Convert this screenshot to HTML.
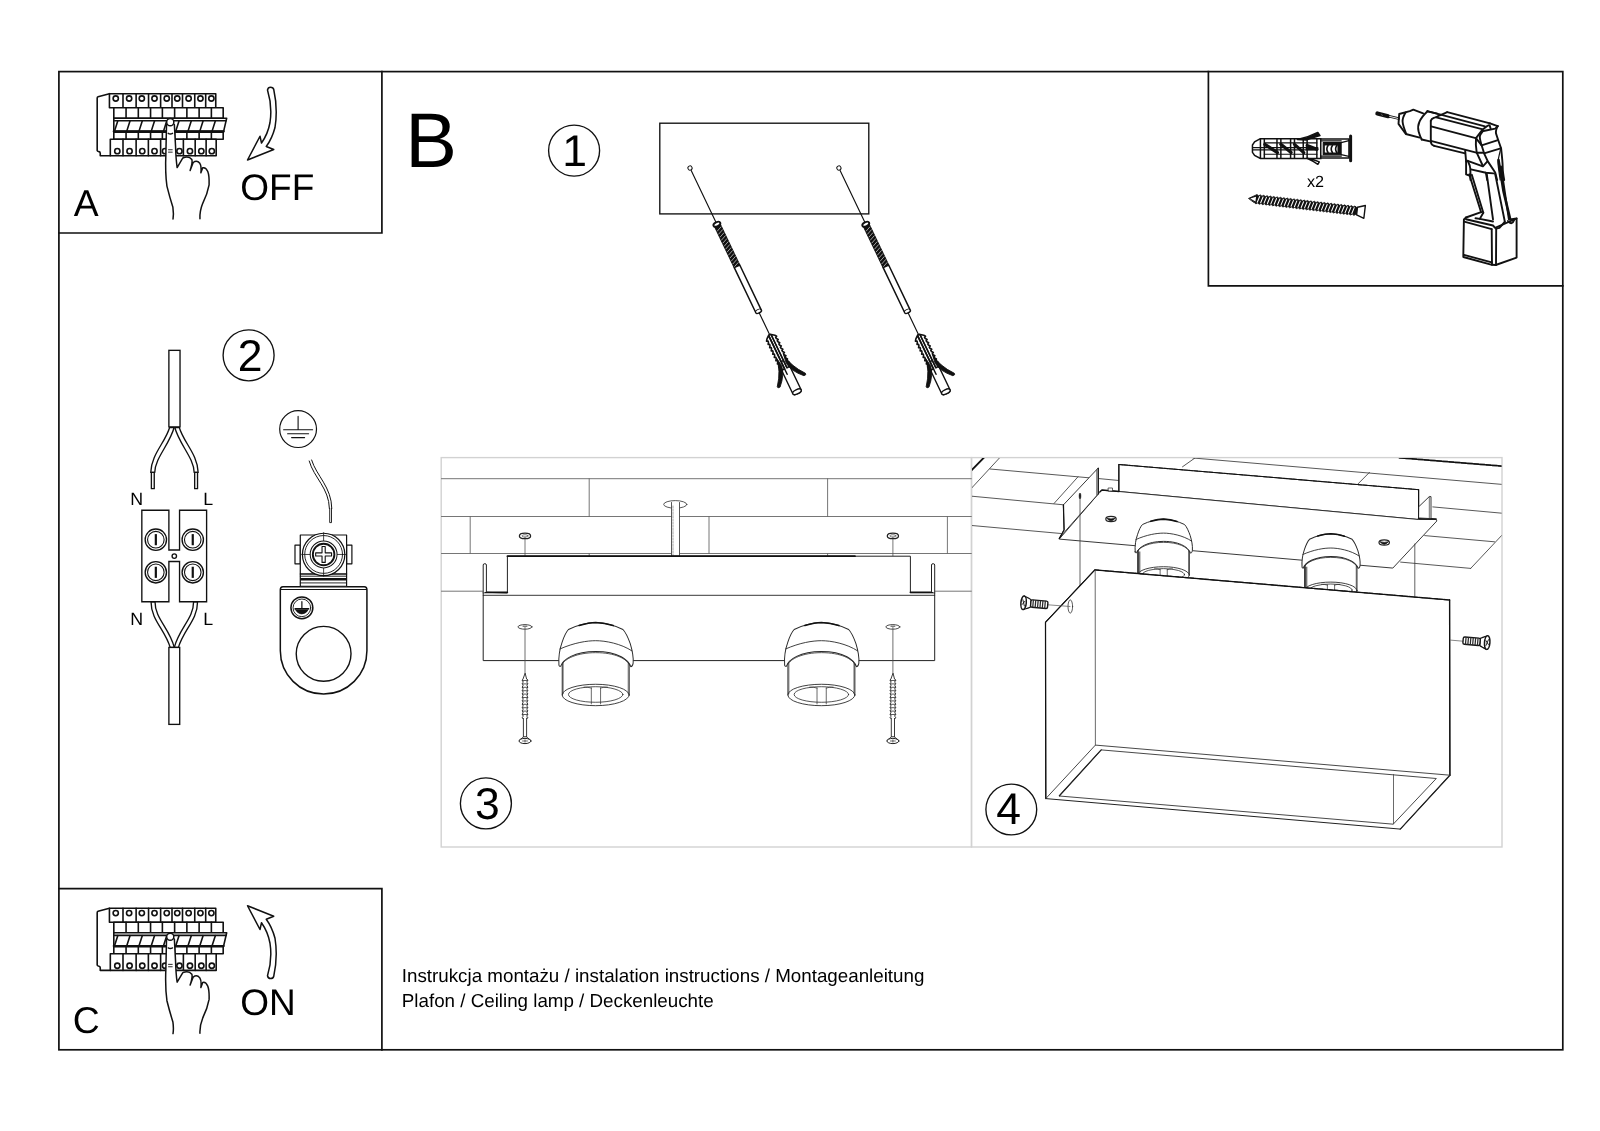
<!DOCTYPE html>
<html lang="pl"><head><meta charset="utf-8"><title>Instrukcja montażu</title>
<style>
html,body{margin:0;padding:0;background:#fff;}
body{width:1600px;height:1131px;overflow:hidden;}
svg{display:block;will-change:transform;}
svg text{font-family:"Liberation Sans",sans-serif;fill:#000;stroke:none;text-rendering:geometricPrecision;}
.k{fill:none;stroke:#111;stroke-linecap:round;stroke-linejoin:round;}
.w{fill:#fff;stroke:#111;stroke-linecap:round;stroke-linejoin:round;}
.b{fill:#111;stroke:#111;stroke-linejoin:round;}
</style></head><body>
<svg width="1600" height="1131" viewBox="0 0 1600 1131">
<rect width="1600" height="1131" fill="#fff"/>
<!-- frames -->
<g class="k" stroke-width="1.7" style="stroke-linecap:square;stroke-linejoin:miter">
<rect x="58.9" y="71.6" width="1503.9" height="978.2"/>
<path d="M381.9 71.6V233H58.9"/>
<path d="M58.9 888.6H381.9V1049.8"/>
<path d="M1208.4 71.6V285.8H1562.8"/>
</g>
<!-- labels -->
<text x="73.8" y="215.5" font-size="37.3">A</text>
<text x="240.3" y="200" font-size="37">OFF</text>
<text x="405.3" y="167.4" font-size="77.5">B</text>
<text x="72.8" y="1032.5" font-size="37.3">C</text>
<text x="240.3" y="1015" font-size="37">ON</text>
<text x="401.8" y="981.8" font-size="18.78">Instrukcja montażu / instalation instructions / Montageanleitung</text>
<text x="401.8" y="1007.3" font-size="18.78">Plafon / Ceiling lamp / Deckenleuchte</text>
<text x="1307" y="187.2" font-size="16.2">x2</text>
<!-- circled numbers -->
<g class="k" stroke-width="1.35">
<circle cx="574.1" cy="150.6" r="25.5"/>
<circle cx="248.6" cy="355.3" r="25.5"/>
<circle cx="485.9" cy="803.4" r="25.5"/>
<circle cx="1011.3" cy="809.5" r="25.4"/>
</g>
<g font-size="44.5" text-anchor="middle">
<text x="574.5" y="165.8">1</text>
<text x="250.2" y="370.9">2</text>
<text x="487.3" y="818.9">3</text>
<text x="1008.5" y="824.3">4</text>
</g>

<!-- box A -->
<g><g transform="translate(95 88) scale(0.08750)" class="k" stroke-width="18.29">
<path class="k" d="M165 65 L35 100 Q25 103 25 115 L25 715 Q27 724 45 727 Q60 730 60 745 L60 775 L175 775"/>
<rect class="w" x="165" y="65" width="1215" height="160"/>
<path d="M320 65V225"/>
<path d="M470 65V225"/>
<path d="M612 65V225"/>
<path d="M750 65V225"/>
<path d="M880 65V225"/>
<path d="M1000 65V225"/>
<path d="M1140 65V225"/>
<path d="M1265 65V225"/>
<circle cx="237" cy="120" r="30"/>
<circle cx="390" cy="120" r="30"/>
<circle cx="535" cy="120" r="30"/>
<circle cx="680" cy="120" r="30"/>
<circle cx="820" cy="120" r="30"/>
<circle cx="940" cy="120" r="30"/>
<circle cx="1070" cy="120" r="30"/>
<circle cx="1205" cy="120" r="30"/>
<circle cx="1330" cy="120" r="30"/>
<rect class="w" x="215" y="225" width="1250" height="120"/>
<path d="M355 225V345"/>
<path d="M495 225V345"/>
<path d="M635 225V345"/>
<path d="M770 225V345"/>
<path d="M910 225V345"/>
<path d="M1050 225V345"/>
<path d="M1190 225V345"/>
<path d="M1330 225V345"/>
<path class="w" d="M215 345H1505L1470 495H215Z"/>
<path d="M225 375H1498"/>
<path d="M260 378L224 490"/>
<path d="M400 378L364 490"/>
<path d="M540 378L504 490"/>
<path d="M680 378L644 490"/>
<path d="M820 378L784 490"/>
<path d="M960 378L924 490"/>
<path d="M1100 378L1064 490"/>
<path d="M1235 378L1199 490"/>
<path d="M1375 378L1339 490"/>
<path d="M215 497H1470" stroke-width="26.29"/>
<rect class="w" x="215" y="505" width="1250" height="80"/>
<path d="M355 505V585"/>
<path d="M495 505V585"/>
<path d="M635 505V585"/>
<path d="M770 505V585"/>
<path d="M910 505V585"/>
<path d="M1050 505V585"/>
<path d="M1190 505V585"/>
<path d="M1330 505V585"/>
<rect class="w" x="175" y="585" width="1210" height="190"/>
<path d="M320 585V775"/>
<path d="M470 585V775"/>
<path d="M610 585V775"/>
<path d="M750 585V775"/>
<path d="M880 585V775"/>
<path d="M1010 585V775"/>
<path d="M1145 585V775"/>
<path d="M1270 585V775"/>
<circle cx="255" cy="722" r="30"/>
<circle cx="395" cy="722" r="30"/>
<circle cx="540" cy="722" r="30"/>
<circle cx="680" cy="722" r="30"/>
<circle cx="800" cy="722" r="30"/>
<circle cx="965" cy="722" r="30"/>
<circle cx="1085" cy="722" r="30"/>
<circle cx="1215" cy="722" r="30"/>
<circle cx="1335" cy="722" r="30"/>
</g>
<g transform="translate(90 80) scale(0.13263)" class="k" stroke-width="11.31">
<path fill="#fff" stroke="none" d="M577 335 L572 560 Q566 700 580 800 Q600 880 625 960 Q632 1010 626 1048 L829 1046 Q826 990 850 930 Q885 860 898 790 Q900 720 888 690 Q872 655 850 662 L836 700 Q842 650 828 628 Q806 600 778 622 L755 682 Q775 620 768 600 Q745 570 700 588 L657 660 Q648 600 645 500 L636 335 Z"/>
<path class="k" d="M577 335 L572 560 Q566 700 580 800 Q600 880 625 960 Q632 1010 626 1048 M829 1046 Q826 990 850 930 Q885 860 898 790 Q900 720 888 690 Q872 655 850 662 L836 700 Q842 650 828 628 Q806 600 778 622 L755 682 Q775 620 768 600 Q745 570 700 588 L657 660 Q648 600 645 500 L636 335"/>
<circle class="w" cx="605" cy="318" r="27"/>
<path d="M590 402 Q605 412 622 402"/>
<path d="M592 526 H620 M592 544 H620" stroke-width="6.79"/>
</g>
<g transform="translate(40 50) scale(0.25)" class="k" stroke-width="6"><path class="w" d="M910 160 Q912 149 922 149 Q933 149 935 158 Q952 235 940 310 Q928 355 905 386 L935 398 L830 440 L880 345 L886 372 Q912 335 920 290 Q930 225 910 160 Z"/></g></g>

<!-- box C -->
<g><g transform="translate(0 814.6)"><g transform="translate(95 88) scale(0.08750)" class="k" stroke-width="18.29">
<path class="k" d="M165 65 L35 100 Q25 103 25 115 L25 715 Q27 724 45 727 Q60 730 60 745 L60 775 L175 775"/>
<rect class="w" x="165" y="65" width="1215" height="160"/>
<path d="M320 65V225"/>
<path d="M470 65V225"/>
<path d="M612 65V225"/>
<path d="M750 65V225"/>
<path d="M880 65V225"/>
<path d="M1000 65V225"/>
<path d="M1140 65V225"/>
<path d="M1265 65V225"/>
<circle cx="237" cy="120" r="30"/>
<circle cx="390" cy="120" r="30"/>
<circle cx="535" cy="120" r="30"/>
<circle cx="680" cy="120" r="30"/>
<circle cx="820" cy="120" r="30"/>
<circle cx="940" cy="120" r="30"/>
<circle cx="1070" cy="120" r="30"/>
<circle cx="1205" cy="120" r="30"/>
<circle cx="1330" cy="120" r="30"/>
<rect class="w" x="215" y="225" width="1250" height="120"/>
<path d="M355 225V345"/>
<path d="M495 225V345"/>
<path d="M635 225V345"/>
<path d="M770 225V345"/>
<path d="M910 225V345"/>
<path d="M1050 225V345"/>
<path d="M1190 225V345"/>
<path d="M1330 225V345"/>
<path class="w" d="M215 345H1505L1470 495H215Z"/>
<path d="M225 375H1498"/>
<path d="M260 378L224 490"/>
<path d="M400 378L364 490"/>
<path d="M540 378L504 490"/>
<path d="M680 378L644 490"/>
<path d="M820 378L784 490"/>
<path d="M960 378L924 490"/>
<path d="M1100 378L1064 490"/>
<path d="M1235 378L1199 490"/>
<path d="M1375 378L1339 490"/>
<path d="M215 497H1470" stroke-width="26.29"/>
<rect class="w" x="215" y="505" width="1250" height="80"/>
<path d="M355 505V585"/>
<path d="M495 505V585"/>
<path d="M635 505V585"/>
<path d="M770 505V585"/>
<path d="M910 505V585"/>
<path d="M1050 505V585"/>
<path d="M1190 505V585"/>
<path d="M1330 505V585"/>
<rect class="w" x="175" y="585" width="1210" height="190"/>
<path d="M320 585V775"/>
<path d="M470 585V775"/>
<path d="M610 585V775"/>
<path d="M750 585V775"/>
<path d="M880 585V775"/>
<path d="M1010 585V775"/>
<path d="M1145 585V775"/>
<path d="M1270 585V775"/>
<circle cx="255" cy="722" r="30"/>
<circle cx="395" cy="722" r="30"/>
<circle cx="540" cy="722" r="30"/>
<circle cx="680" cy="722" r="30"/>
<circle cx="800" cy="722" r="30"/>
<circle cx="965" cy="722" r="30"/>
<circle cx="1085" cy="722" r="30"/>
<circle cx="1215" cy="722" r="30"/>
<circle cx="1335" cy="722" r="30"/>
</g>
<g transform="translate(90 80) scale(0.13263)" class="k" stroke-width="11.31">
<path fill="#fff" stroke="none" d="M577 335 L572 560 Q566 700 580 800 Q600 880 625 960 Q632 1010 626 1048 L829 1046 Q826 990 850 930 Q885 860 898 790 Q900 720 888 690 Q872 655 850 662 L836 700 Q842 650 828 628 Q806 600 778 622 L755 682 Q775 620 768 600 Q745 570 700 588 L657 660 Q648 600 645 500 L636 335 Z"/>
<path class="k" d="M577 335 L572 560 Q566 700 580 800 Q600 880 625 960 Q632 1010 626 1048 M829 1046 Q826 990 850 930 Q885 860 898 790 Q900 720 888 690 Q872 655 850 662 L836 700 Q842 650 828 628 Q806 600 778 622 L755 682 Q775 620 768 600 Q745 570 700 588 L657 660 Q648 600 645 500 L636 335"/>
<circle class="w" cx="605" cy="318" r="27"/>
<path d="M590 402 Q605 412 622 402"/>
<path d="M592 526 H620 M592 544 H620" stroke-width="6.79"/>
</g></g>
<g transform="translate(0 1065.75) scale(1 -1)"><g transform="translate(40 50) scale(0.25)" class="k" stroke-width="6"><path class="w" d="M910 160 Q912 149 922 149 Q933 149 935 158 Q952 235 940 310 Q928 355 905 386 L935 398 L830 440 L880 345 L886 372 Q912 335 920 290 Q930 225 910 160 Z"/></g></g></g>

<!-- step 1 -->
<rect class="k" x="659.8" y="123.2" width="209" height="90.7" stroke-width="1.35" style="stroke-linejoin:miter"/>
<g transform="translate(690 168) rotate(64.45)" class="k" stroke-width="1.5">
<path d="M0 0H61" stroke-width="1.15"/>
<circle class="w" cx="0" cy="0" r="2.1" stroke-width="1"/>
<rect class="b" x="63" y="-3.1" width="46" height="6.2" stroke-width="1"/>
<path d="M66.5 -2.6L68.7 2.6 M69.8 -2.6L72.0 2.6 M73.1 -2.6L75.3 2.6 M76.4 -2.6L78.6 2.6 M79.7 -2.6L81.9 2.6 M83.0 -2.6L85.2 2.6 M86.3 -2.6L88.5 2.6 M89.6 -2.6L91.8 2.6 M92.9 -2.6L95.1 2.6 M96.2 -2.6L98.4 2.6 M99.5 -2.6L101.7 2.6 M102.8 -2.6L105.0 2.6 M106.1 -2.6L108.3 2.6" stroke="#fff" stroke-width="0.55" fill="none"/>
<ellipse class="w" cx="62.3" cy="0" rx="2.0" ry="3.7" stroke-width="1.9"/>
<path class="w" d="M109 -3.05H159.3 A1.3 3.05 0 0 1 159.3 3.05 H109Z" stroke-width="1.5"/>
<path d="M158.2 -3.05 A1.3 3.05 0 0 0 158.2 3.05" stroke-width="0.9"/>
<path d="M160.6 0H185" stroke-width="1.15"/>
<path class="w" d="M214 -4.6H248 A2.2 4.6 0 0 1 248 4.6 H214Z" stroke-width="1.4"/>
<ellipse class="w" cx="248" cy="0" rx="2.2" ry="4.6" stroke-width="1.4"/>
<path class="w" d="M184.5 0.6 L186.0 2.6 L187.5 4.4 L189.2 5.6 L189.8 4.2 L191.1 4.4 L192.8 5.6 L193.4 4.2 L194.7 4.4 L196.4 5.6 L197.0 4.2 L198.3 4.4 L200.0 5.6 L200.6 4.2 L201.9 4.4 L203.6 5.6 L204.2 4.2 L205.5 4.4 L207.2 5.6 L207.8 4.2 L209.1 4.4 L210.8 5.6 L211.4 4.2 L212.7 4.4 L214.4 5.6 L215.0 4.2 L216.3 4.4 L218.0 5.6 L218.6 4.2 L219.9 4.4 L221.6 5.6 L222.2 4.2 L222.0 4.6 L222.0 1.3 L186.0 1.3Z" stroke-width="1.6"/>
<path class="w" d="M184.5 -0.6 L186.0 -2.6 L187.5 -4.4 L189.2 -5.6 L189.8 -4.2 L191.1 -4.4 L192.8 -5.6 L193.4 -4.2 L194.7 -4.4 L196.4 -5.6 L197.0 -4.2 L198.3 -4.4 L200.0 -5.6 L200.6 -4.2 L201.9 -4.4 L203.6 -5.6 L204.2 -4.2 L205.5 -4.4 L207.2 -5.6 L207.8 -4.2 L209.1 -4.4 L210.8 -5.6 L211.4 -4.2 L212.7 -4.4 L214.4 -5.6 L215.0 -4.2 L216.3 -4.4 L218.0 -5.6 L218.6 -4.2 L219.9 -4.4 L221.6 -5.6 L222.2 -4.2 L222.0 -4.6 L222.0 -1.3 L186.0 -1.3Z" stroke-width="1.6"/>
<path d="M186 1.3H228" stroke-width="1.5"/>
<path d="M186 -1.3H222" stroke-width="1.3"/>
<path class="b" d="M209 4.0 Q222 5.2 235 15.6 Q237 16.2 236.5 13.2 Q227 3.6 218 2.6 Z" stroke-width="0.8"/>
<path class="b" d="M209 -4.0 Q222 -5.2 235 -15.6 Q237 -16.2 236.5 -13.2 Q227 -3.6 218 -2.6 Z" stroke-width="0.8"/>
</g>
<g transform="translate(838.9 168) rotate(64.45)" class="k" stroke-width="1.5">
<path d="M0 0H61" stroke-width="1.15"/>
<circle class="w" cx="0" cy="0" r="2.1" stroke-width="1"/>
<rect class="b" x="63" y="-3.1" width="46" height="6.2" stroke-width="1"/>
<path d="M66.5 -2.6L68.7 2.6 M69.8 -2.6L72.0 2.6 M73.1 -2.6L75.3 2.6 M76.4 -2.6L78.6 2.6 M79.7 -2.6L81.9 2.6 M83.0 -2.6L85.2 2.6 M86.3 -2.6L88.5 2.6 M89.6 -2.6L91.8 2.6 M92.9 -2.6L95.1 2.6 M96.2 -2.6L98.4 2.6 M99.5 -2.6L101.7 2.6 M102.8 -2.6L105.0 2.6 M106.1 -2.6L108.3 2.6" stroke="#fff" stroke-width="0.55" fill="none"/>
<ellipse class="w" cx="62.3" cy="0" rx="2.0" ry="3.7" stroke-width="1.9"/>
<path class="w" d="M109 -3.05H159.3 A1.3 3.05 0 0 1 159.3 3.05 H109Z" stroke-width="1.5"/>
<path d="M158.2 -3.05 A1.3 3.05 0 0 0 158.2 3.05" stroke-width="0.9"/>
<path d="M160.6 0H185" stroke-width="1.15"/>
<path class="w" d="M214 -4.6H248 A2.2 4.6 0 0 1 248 4.6 H214Z" stroke-width="1.4"/>
<ellipse class="w" cx="248" cy="0" rx="2.2" ry="4.6" stroke-width="1.4"/>
<path class="w" d="M184.5 0.6 L186.0 2.6 L187.5 4.4 L189.2 5.6 L189.8 4.2 L191.1 4.4 L192.8 5.6 L193.4 4.2 L194.7 4.4 L196.4 5.6 L197.0 4.2 L198.3 4.4 L200.0 5.6 L200.6 4.2 L201.9 4.4 L203.6 5.6 L204.2 4.2 L205.5 4.4 L207.2 5.6 L207.8 4.2 L209.1 4.4 L210.8 5.6 L211.4 4.2 L212.7 4.4 L214.4 5.6 L215.0 4.2 L216.3 4.4 L218.0 5.6 L218.6 4.2 L219.9 4.4 L221.6 5.6 L222.2 4.2 L222.0 4.6 L222.0 1.3 L186.0 1.3Z" stroke-width="1.6"/>
<path class="w" d="M184.5 -0.6 L186.0 -2.6 L187.5 -4.4 L189.2 -5.6 L189.8 -4.2 L191.1 -4.4 L192.8 -5.6 L193.4 -4.2 L194.7 -4.4 L196.4 -5.6 L197.0 -4.2 L198.3 -4.4 L200.0 -5.6 L200.6 -4.2 L201.9 -4.4 L203.6 -5.6 L204.2 -4.2 L205.5 -4.4 L207.2 -5.6 L207.8 -4.2 L209.1 -4.4 L210.8 -5.6 L211.4 -4.2 L212.7 -4.4 L214.4 -5.6 L215.0 -4.2 L216.3 -4.4 L218.0 -5.6 L218.6 -4.2 L219.9 -4.4 L221.6 -5.6 L222.2 -4.2 L222.0 -4.6 L222.0 -1.3 L186.0 -1.3Z" stroke-width="1.6"/>
<path d="M186 1.3H228" stroke-width="1.5"/>
<path d="M186 -1.3H222" stroke-width="1.3"/>
<path class="b" d="M209 4.0 Q222 5.2 235 15.6 Q237 16.2 236.5 13.2 Q227 3.6 218 2.6 Z" stroke-width="0.8"/>
<path class="b" d="M209 -4.0 Q222 -5.2 235 -15.6 Q237 -16.2 236.5 -13.2 Q227 -3.6 218 -2.6 Z" stroke-width="0.8"/>
</g>

<!-- tools: plug + screw -->
<g transform="translate(1240 120) scale(0.09729)" class="k" stroke-width="15.42">
<path class="w" style="stroke-linejoin:miter" d="M210 192 L150 225 L128 258 L128 332 L150 365 L210 395 L830 395 L830 192 Z"/>
<path d="M210 195V392"/>
<path d="M250 195V392"/>
<path d="M380 195V392"/>
<path d="M420 195V392"/>
<path d="M520 195V392"/>
<path d="M560 195V392"/>
<path d="M650 195V392"/>
<path d="M690 195V392"/>
<path d="M790 195V392"/>
<path d="M130 283H800 M130 307H800" stroke-width="12.33"/>
<path d="M250 235H790 M250 352H790" stroke-width="11.31"/>
<path d="M255 250L385 335 M420 250L525 335 M560 250L655 335 M690 262L790 300" stroke-width="32.89"/>
<path d="M690 295H790" stroke-width="30.84"/>
<path class="b" d="M590 200 Q700 180 800 128 L822 160 Q740 185 680 205 Z"/>
<path class="w" d="M690 392 Q760 405 815 430 L800 455 Q745 420 700 400 Z"/>
<rect class="w" x="830" y="195" width="290" height="195"/>
<rect class="b" x="855" y="232" width="185" height="125" stroke-width="10.28"/>
<rect fill="#fff" stroke="none" x="872" y="262" width="130" height="72"/>
<path d="M905 262 Q880 298 905 334 M950 262 Q925 298 950 334 M995 262 Q970 298 995 334" stroke-width="16.45"/>
<path d="M1040 232L1120 212 M1040 357L1120 375 M830 215H1040 M830 372H1040" stroke-width="13.36"/>
<path d="M1137 165V420" stroke-width="30.84"/>
</g>
<g transform="translate(1248.8 198.3) rotate(6.7)" class="k" stroke-width="1.2">
<path class="b" d="M0 0 L6 -3.6 L6.0 -3.6 L7.7 -4.7 L9.4 -3.6 L9.4 -3.6 L11.1 -4.7 L12.8 -3.6 L12.8 -3.6 L14.5 -4.7 L16.2 -3.6 L16.2 -3.6 L17.9 -4.7 L19.6 -3.6 L19.6 -3.6 L21.3 -4.7 L23.0 -3.6 L23.0 -3.6 L24.7 -4.7 L26.4 -3.6 L26.4 -3.6 L28.1 -4.7 L29.8 -3.6 L29.8 -3.6 L31.5 -4.7 L33.2 -3.6 L33.2 -3.6 L34.9 -4.7 L36.6 -3.6 L36.6 -3.6 L38.3 -4.7 L40.0 -3.6 L40.0 -3.6 L41.7 -4.7 L43.4 -3.6 L43.4 -3.6 L45.1 -4.7 L46.8 -3.6 L46.8 -3.6 L48.5 -4.7 L50.2 -3.6 L50.2 -3.6 L51.9 -4.7 L53.6 -3.6 L53.6 -3.6 L55.3 -4.7 L57.0 -3.6 L57.0 -3.6 L58.7 -4.7 L60.4 -3.6 L60.4 -3.6 L62.1 -4.7 L63.8 -3.6 L63.8 -3.6 L65.5 -4.7 L67.2 -3.6 L67.2 -3.6 L68.9 -4.7 L70.6 -3.6 L70.6 -3.6 L72.3 -4.7 L74.0 -3.6 L74.0 -3.6 L75.7 -4.7 L77.4 -3.6 L77.4 -3.6 L79.1 -4.7 L80.8 -3.6 L80.8 -3.6 L82.5 -4.7 L84.2 -3.6 L84.2 -3.6 L85.9 -4.7 L87.6 -3.6 L87.6 -3.6 L89.3 -4.7 L91.0 -3.6 L91.0 -3.6 L92.7 -4.7 L94.4 -3.6 L94.4 -3.6 L96.1 -4.7 L97.8 -3.6 L97.8 -3.6 L99.5 -4.7 L101.2 -3.6 L101.2 -3.6 L102.9 -4.7 L104.6 -3.6 L104.6 -3.6 L106.3 -4.7 L108.0 -3.6 L109 -3.6 L109 3.6 L108.0 3.6 L106.3 4.7 L104.6 3.6 L104.6 3.6 L102.9 4.7 L101.2 3.6 L101.2 3.6 L99.5 4.7 L97.8 3.6 L97.8 3.6 L96.1 4.7 L94.4 3.6 L94.4 3.6 L92.7 4.7 L91.0 3.6 L91.0 3.6 L89.3 4.7 L87.6 3.6 L87.6 3.6 L85.9 4.7 L84.2 3.6 L84.2 3.6 L82.5 4.7 L80.8 3.6 L80.8 3.6 L79.1 4.7 L77.4 3.6 L77.4 3.6 L75.7 4.7 L74.0 3.6 L74.0 3.6 L72.3 4.7 L70.6 3.6 L70.6 3.6 L68.9 4.7 L67.2 3.6 L67.2 3.6 L65.5 4.7 L63.8 3.6 L63.8 3.6 L62.1 4.7 L60.4 3.6 L60.4 3.6 L58.7 4.7 L57.0 3.6 L57.0 3.6 L55.3 4.7 L53.6 3.6 L53.6 3.6 L51.9 4.7 L50.2 3.6 L50.2 3.6 L48.5 4.7 L46.8 3.6 L46.8 3.6 L45.1 4.7 L43.4 3.6 L43.4 3.6 L41.7 4.7 L40.0 3.6 L40.0 3.6 L38.3 4.7 L36.6 3.6 L36.6 3.6 L34.9 4.7 L33.2 3.6 L33.2 3.6 L31.5 4.7 L29.8 3.6 L29.8 3.6 L28.1 4.7 L26.4 3.6 L26.4 3.6 L24.7 4.7 L23.0 3.6 L23.0 3.6 L21.3 4.7 L19.6 3.6 L19.6 3.6 L17.9 4.7 L16.2 3.6 L16.2 3.6 L14.5 4.7 L12.8 3.6 L12.8 3.6 L11.1 4.7 L9.4 3.6 L9.4 3.6 L7.7 4.7 L6.0 3.6 L6 3.6 Z" stroke-width="0.8"/>
<path d="M10.6 -3.0L8.9 3.0 M14.0 -3.0L12.3 3.0 M17.4 -3.0L15.7 3.0 M20.8 -3.0L19.1 3.0 M24.2 -3.0L22.5 3.0 M27.6 -3.0L25.9 3.0 M31.0 -3.0L29.3 3.0 M34.4 -3.0L32.7 3.0 M37.8 -3.0L36.1 3.0 M41.2 -3.0L39.5 3.0 M44.6 -3.0L42.9 3.0 M48.0 -3.0L46.3 3.0 M51.4 -3.0L49.7 3.0 M54.8 -3.0L53.1 3.0 M58.2 -3.0L56.5 3.0 M61.6 -3.0L59.9 3.0 M65.0 -3.0L63.3 3.0 M68.4 -3.0L66.7 3.0 M71.8 -3.0L70.1 3.0 M75.2 -3.0L73.5 3.0 M78.6 -3.0L76.9 3.0 M82.0 -3.0L80.3 3.0 M85.4 -3.0L83.7 3.0 M88.8 -3.0L87.1 3.0 M92.2 -3.0L90.5 3.0 M95.6 -3.0L93.9 3.0 M99.0 -3.0L97.3 3.0 M102.4 -3.0L100.7 3.0 M105.8 -3.0L104.1 3.0" stroke="#fff" stroke-width="1.05" fill="none"/>
<path d="M1.5 0 L7 -2.4 L7 2.4Z" fill="#fff" stroke="none"/>
<path class="w" d="M109 -3.8 L116.6 -6.4 L116.6 6.4 L109 3.8 Z" stroke-width="1.4"/>
</g>

<!-- drill -->
<path class="k" d="M1377.4 113.5 L1388.1 116.2" stroke-width="4.2" />
<path class="k" d="M1381.5 114.2 L1382.4 115.6" stroke-width="0.5" style="stroke:#999"/>
<path class="k" d="M1389.0 116.3 L1398.5 118.6" stroke-width="2.6" />
<path class="k" d="M1389.6 116.4 L1398.1 118.5" stroke-width="0.9" style="stroke:#fff"/>
<path class="k" d="M1423.1 113.3 L1413.3 109.6 L1409.8 111.1 L1399.2 114.0 L1398.5 123.9 L1405.8 134.0 L1419.7 137.6" stroke-width="1.9" />
<path class="k" d="M1405.6 112.4 Q1402.3 117.7 1402.6 121.7 Q1402.9 125.6 1406.3 134.0" stroke-width="1.9"/>
<path class="k" d="M1427.5 111.3 Q1421.7 116.8 1419.5 121.7 Q1417.3 126.5 1418.6 131.4 Q1420.0 136.3 1421.7 139.5" stroke-width="1.9"/>
<path class="k" d="M1427.5 111.3 L1437.2 113.7" stroke-width="1.9" />
<path class="k" d="M1421.7 139.5 L1431.0 141.7" stroke-width="1.9" />
<path class="k" d="M1447.2 112.2 Q1438.6 115.9 1437.3 116.5 Q1436.1 117.1 1433.8 117.9 Q1431.5 118.7 1430.8 120.8" stroke-width="1.9"/>
<path class="k" d="M1430.8 120.8 Q1430.8 134.8 1430.8 138.5 Q1430.8 142.2 1431.3 143.6 Q1431.8 145.0 1434.2 145.8" stroke-width="1.9"/>
<path class="k" d="M1447.2 112.2 L1490.0 123.3" stroke-width="1.9" />
<path class="k" d="M1490.0 123.3 L1497.7 126.1" stroke-width="1.9" />
<path class="k" d="M1427.4 111.2 L1485.0 126.4" stroke-width="1.9" />
<path class="k" d="M1436.2 117.3 L1481.9 129.2" stroke-width="1.9" />
<path class="k" d="M1431.1 126.4 L1475.7 138.2" stroke-width="1.9" />
<path class="k" d="M1430.8 140.9 L1476.3 152.7 L1482.5 152.7" stroke-width="1.9" />
<path class="k" d="M1434.2 145.8 L1465.1 153.4" stroke-width="1.9" />
<path class="k" d="M1488.7 125.2 L1486.6 126.4 L1482.9 129.2 L1476.0 138.2" stroke-width="1.9" />
<path class="k" d="M1476.0 138.2 Q1475.4 144.7 1476.7 152.7" stroke-width="1.9"/>
<path class="k" d="M1483.5 130.4 Q1479.8 134.8 1479.8 136.9 Q1479.8 139.1 1481.6 145.3" stroke-width="1.9"/>
<path class="k" d="M1483.5 131.0 L1495.2 128.6 L1497.7 126.1" stroke-width="1.9" />
<path class="k" d="M1489.7 125.5 L1490.6 128.6" stroke-width="1.9" />
<path class="k" d="M1497.7 126.1 Q1495.2 131.0 1496.2 134.1 Q1497.1 137.2 1501.1 148.4" stroke-width="1.9"/>
<path class="k" d="M1481.6 145.3 L1497.1 140.3" stroke-width="1.9" />
<path class="k" d="M1484.1 153.3 L1499.9 148.7" stroke-width="1.9" />
<path class="k" d="M1476.0 138.2 L1481.6 145.3 L1484.1 153.3 L1487.8 161.4 L1495.2 172.5 L1497.1 180.0" stroke-width="1.9" />
<path class="k" d="M1476.7 152.7 L1482.2 164.5" stroke-width="1.9" />
<path class="k" d="M1501.1 148.4 Q1502.7 162.6 1502.7 167.3 Q1502.7 171.9 1504.2 180.0" stroke-width="1.9"/>
<path class="k" d="M1500.5 149.6 Q1498.0 159.5 1498.0 162.6 Q1498.0 165.7 1500.2 180.0" stroke-width="1.2"/>
<path class="k" d="M1465.2 150.8 L1466.1 161.4 L1466.1 174.4 L1469.5 175.7" stroke-width="1.9" />
<path class="k" d="M1466.1 161.4 L1467.7 160.8 L1482.9 166.3 L1487.2 161.7" stroke-width="1.9" />
<path class="k" d="M1467.7 160.8 Q1470.2 165.7 1470.3 168.8 Q1470.5 171.9 1470.5 180.0" stroke-width="1.9"/>
<path class="k" d="M1470.8 169.4 L1485.9 172.8 L1493.4 173.4" stroke-width="1.9" />
<path class="k" d="M1485.9 172.8 L1487.2 180.0" stroke-width="1.9" />
<path class="k" d="M1469.2 174.3 L1481.1 212.2" stroke-width="1.9" />
<path class="k" d="M1471.8 174.8 L1483.3 212.8" stroke-width="1.9" />
<path class="k" d="M1486.7 173.6 L1493.0 219.4" stroke-width="1.9" />
<path class="k" d="M1495.1 173.6 L1504.9 222.0" stroke-width="1.9" />
<path class="k" d="M1498.5 160.0 L1503.6 191.8 L1510.2 219.4" stroke-width="2.6" />
<path class="k" d="M1501.0 166.4 L1508.9 219.4" stroke-width="1.9" />
<path class="k" d="M1481.1 212.2 L1466.0 217.5" stroke-width="1.9" />
<path class="k" d="M1483.3 212.8 L1479.8 218.9 L1475.5 218.3" stroke-width="1.9" />
<path class="k" d="M1479.8 218.9 L1493.0 221.5" stroke-width="1.9" />
<path class="k" d="M1466.0 217.5 L1463.9 219.4 L1463.3 257.0 L1492.0 264.8 L1495.7 265.0 L1516.6 257.6 L1516.6 218.5 L1510.2 219.4" stroke-width="1.9" />
<path class="k" d="M1464.2 221.7 L1491.7 229.1" stroke-width="1.9" />
<path class="k" d="M1466.0 219.2 L1493.0 225.5 L1495.1 227.9 L1516.6 218.5" stroke-width="1.9" />
<path class="k" d="M1496.2 228.7 L1499.4 227.9 L1504.7 222.0" stroke-width="1.9" />
<path class="k" d="M1491.7 229.1 L1492.0 264.8" stroke-width="1.9" />
<path class="k" d="M1496.2 228.7 L1496.0 265.0" stroke-width="1.9" />
<path class="k" d="M1463.9 254.9 L1491.7 262.3" stroke-width="1.9" />
<path class="k" d="M1507.9 221.0 Q1510.0 223.6 1511.6 223.1 Q1513.2 222.6 1514.2 219.9" stroke-width="1.9"/>

<!-- step 2 wiring -->
<g transform="translate(110 340) scale(0.15915)" class="k" stroke-width="8.48">
<path class="w" d="M375 548 C350 640 258 720 256 832 L281 832 C284 740 372 660 403 550 Z"/>
<path class="w" d="M435 548 C460 640 552 720 554 832 L529 832 C526 740 438 660 407 550 Z"/>
<rect class="w" x="260" y="832" width="18" height="102"/>
<rect class="w" x="532" y="832" width="18" height="102"/>
<rect class="w" x="370" y="65" width="70" height="481" style="stroke-linejoin:miter"/>
</g>
<g transform="translate(110 480) scale(0.15915)" class="k" stroke-width="8.48">
<path class="w" d="M258 766 C258 880 345 940 378 1052 L404 1052 C372 930 282 870 283 766 Z"/>
<path class="w" d="M550 766 C550 880 463 940 430 1052 L404 1052 C436 930 526 870 525 766 Z"/>
<path class="w" d="M200 190 H370 V440 H437 V190 H607 V765 H437 V512 H370 V765 H200 Z" style="stroke-linejoin:miter"/>
<circle cx="404" cy="478" r="14"/>
<circle cx="288" cy="375" r="67"/>
<circle cx="288" cy="375" r="52" stroke-width="6.91"/>
<path d="M288 340V410" stroke-width="13.82" style="stroke-linecap:butt"/>
<circle cx="520" cy="375" r="67"/>
<circle cx="520" cy="375" r="52" stroke-width="6.91"/>
<path d="M520 340V410" stroke-width="13.82" style="stroke-linecap:butt"/>
<circle cx="288" cy="580" r="67"/>
<circle cx="288" cy="580" r="52" stroke-width="6.91"/>
<path d="M288 545V615" stroke-width="13.82" style="stroke-linecap:butt"/>
<circle cx="520" cy="580" r="67"/>
<circle cx="520" cy="580" r="52" stroke-width="6.91"/>
<path d="M520 545V615" stroke-width="13.82" style="stroke-linecap:butt"/>
<rect class="w" x="370" y="1052" width="68" height="483.6" style="stroke-linejoin:miter"/>
</g>
<g font-size="17.8">
<text x="130.2" y="504.7">N</text><text x="203.2" y="504.7">L</text>
<text x="130.2" y="625.2">N</text><text x="203.2" y="625.2">L</text>
</g>

<!-- ground terminal -->
<g class="k" stroke-width="1.1">
<circle cx="298.1" cy="429.1" r="18.4" stroke-width="1.2"/>
<path d="M298.1 416.4V429.7 M283.6 429.7H312.6 M287.6 433.7H308.6 M291.6 437.6H304.6"/>
<path d="M309.2 461 C314 478 329 488 329.4 508.5 M311.6 460 C316.5 476 331.6 487 331.8 508.5" stroke-width="1"/>
<path d="M329.7 508.5V522.6H331.5V508.5" stroke-width="0.9"/>
</g>
<g transform="translate(260 520) scale(0.17673)" class="k" stroke-width="6.79">
<path class="w" d="M130 377 H590 Q605 377 605 395 V740 A245 245 0 0 1 115 740 V395 Q115 377 130 377 Z" stroke-width="8.49"/>
<path d="M117 393H603" stroke-width="5.66"/>
<circle cx="360" cy="757" r="155" stroke-width="7.92"/>
<circle cx="237" cy="497" r="62" stroke-width="8.49"/>
<circle cx="237" cy="497" r="50" stroke-width="5.09"/>
<path d="M237 462V500 M198 502H276" stroke-width="6.79"/>
<path d="M200 506 H274 Q262 530 237 532 Q212 530 200 506Z" class="b" stroke-width="3.40"/>
<rect class="w" x="228" y="305" width="262" height="70"/>
<path d="M228 335H490" stroke-width="14.71" style="stroke-linecap:butt"/>
<path d="M228 318H490 M228 356H490" stroke-width="5.09"/>
<rect class="w" x="198" y="142" width="30" height="106"/>
<rect class="w" x="490" y="142" width="30" height="106"/>
<rect class="w" x="228" y="85" width="262" height="220"/>
<circle class="w" cx="360" cy="195" r="120" stroke-width="6.79"/>
<circle cx="360" cy="195" r="107" stroke-width="5.09"/>
<path d="M360 72V318 M236 195H484" stroke-width="4.53"/>
<circle class="w" cx="360" cy="195" r="76" stroke-width="5.66"/>
<circle class="w" cx="360" cy="195" r="61" stroke-width="10.75"/>
<path class="w" d="M351 150H369V186H405V204H369V240H351V204H315V186H351Z" stroke-width="6.22"/>
</g>

<!-- step 3 -->
<g class="k" stroke-width="1.4" style="stroke:#d2d2d2;stroke-linejoin:miter">
<rect x="441.2" y="457.6" width="530.3" height="389.4"/>
<rect x="971.5" y="457.6" width="530.5" height="389.4"/>
</g>
<g class="k" stroke-width="0.9" style="stroke:#666">
<path d="M441.5 478.7H971.3 M441.5 516.5H971.3 M441.5 553.5H971.3 M441.5 591.2H483 M935 591.2H971.3"/>
<path d="M589.2 478.7V516.5 M827.6 478.7V516.5 M470.2 516.5V553.5 M709 516.5V553.5 M947.4 516.5V553.5 M589.2 553.5V556 M827.6 553.5V556"/>
</g>
<g class="k" stroke-width="0.9" style="stroke:#444">
<ellipse cx="675.3" cy="504.4" rx="11.6" ry="3.8"/>
<path class="w" style="stroke:#444" d="M671.5 502.5V556.2H679.5V502.5"/>
<path d="M673 506V556" stroke-dasharray="2 1.2" stroke-width="0.5"/>
<path d="M525 537V556" stroke-width="0.8" style="stroke:#555"/>
<ellipse cx="525" cy="535.9" rx="5.6" ry="2.7" stroke-width="1.3" style="stroke:#222"/>
<ellipse cx="525" cy="535.9" rx="3" ry="1.2" stroke-width="0.7"/>
<path d="M892.9 537V556" stroke-width="0.8" style="stroke:#555"/>
<ellipse cx="892.9" cy="535.9" rx="5.6" ry="2.7" stroke-width="1.3" style="stroke:#222"/>
<ellipse cx="892.9" cy="535.9" rx="3" ry="1.2" stroke-width="0.7"/>
</g>
<g class="k" stroke-width="1" style="stroke:#222;stroke-linejoin:miter">
<path class="w" style="stroke:#222" d="M507.4 592.6V556.2H910.4V592.6H934.7V660.6H483.2V592.6Z"/>
<path d="M507.4 556.2H855" stroke-width="1.7" style="stroke:#111"/>
<path d="M483.2 595.3H934.7" stroke-width="0.9"/>
<path d="M484 592.4H507.4 M910.4 592.4H934" stroke-width="1.6" style="stroke:#111"/>
<path class="w" style="stroke:#222" d="M483.2 593V565 Q483.2 563.7 484.8 563.7 Q486.4 563.7 486.4 565 V591.5"/>
<path class="w" style="stroke:#222" d="M934.7 593V565 Q934.7 563.7 933.1 563.7 Q931.5 563.7 931.5 565 V591.5"/>
</g>
<g class="k" style="stroke:#333">
<ellipse cx="525" cy="626.9" rx="7" ry="2.3" stroke-width="0.9"/>
<path d="M523 626.2H527" stroke-width="0.9"/>
<path d="M525 627.5V673" stroke-width="0.8" style="stroke:#4a4a4a"/>
<path class="w" style="stroke:#222" d="M525 673.5 L523.0 679 L523.0 679.0 L522.0 680.4 L523.0 681.0 L523.0 682.4 L522.0 683.8 L523.0 684.4 L523.0 685.8 L522.0 687.2 L523.0 687.8 L523.0 689.2 L522.0 690.6 L523.0 691.2 L523.0 692.6 L522.0 694.0 L523.0 694.6 L523.0 696.0 L522.0 697.4 L523.0 698.0 L523.0 699.4 L522.0 700.8 L523.0 701.4 L523.0 702.8 L522.0 704.2 L523.0 704.8 L523.0 706.2 L522.0 707.6 L523.0 708.2 L523.0 709.6 L522.0 711.0 L523.0 711.6 L523.0 713.0 L522.0 714.4 L523.0 715.0 L523.0 716.4 L522.0 717.8 L523.0 718.4 L523.4 718 L523.4 738 L526.6 738 L526.6 718 L527.0 718.4 L528.0 717.8 L527.0 716.4 L527.0 715.0 L528.0 714.4 L527.0 713.0 L527.0 711.6 L528.0 711.0 L527.0 709.6 L527.0 708.2 L528.0 707.6 L527.0 706.2 L527.0 704.8 L528.0 704.2 L527.0 702.8 L527.0 701.4 L528.0 700.8 L527.0 699.4 L527.0 698.0 L528.0 697.4 L527.0 696.0 L527.0 694.6 L528.0 694.0 L527.0 692.6 L527.0 691.2 L528.0 690.6 L527.0 689.2 L527.0 687.8 L528.0 687.2 L527.0 685.8 L527.0 684.4 L528.0 683.8 L527.0 682.4 L527.0 681.0 L528.0 680.4 L527.0 679.0 L527.0 679 Z" stroke-width="0.9"/>
<path d="M522.6 680.5H527.4 M522.6 683.9H527.4 M522.6 687.3H527.4 M522.6 690.7H527.4 M522.6 694.1H527.4 M522.6 697.5H527.4 M522.6 700.9H527.4 M522.6 704.3H527.4 M522.6 707.7H527.4 M522.6 711.1H527.4 M522.6 714.5H527.4" stroke-width="0.8" style="stroke:#333"/>
<path class="w" style="stroke:#222" d="M523.4 737 L519 740.5 Q525 746 531 740.5 L526.6 737Z" stroke-width="0.9"/>
<ellipse class="w" cx="525" cy="741" rx="6" ry="2.6" stroke-width="1" style="stroke:#222"/>
<path d="M522.5 741H527.5 M525 739.8V742.2" stroke-width="0.7"/>
</g>
<g class="k" style="stroke:#333">
<ellipse cx="892.9" cy="626.9" rx="7" ry="2.3" stroke-width="0.9"/>
<path d="M890.9 626.2H894.9" stroke-width="0.9"/>
<path d="M892.9 627.5V673" stroke-width="0.8" style="stroke:#4a4a4a"/>
<path class="w" style="stroke:#222" d="M892.9 673.5 L890.9 679 L890.9 679.0 L889.9 680.4 L890.9 681.0 L890.9 682.4 L889.9 683.8 L890.9 684.4 L890.9 685.8 L889.9 687.2 L890.9 687.8 L890.9 689.2 L889.9 690.6 L890.9 691.2 L890.9 692.6 L889.9 694.0 L890.9 694.6 L890.9 696.0 L889.9 697.4 L890.9 698.0 L890.9 699.4 L889.9 700.8 L890.9 701.4 L890.9 702.8 L889.9 704.2 L890.9 704.8 L890.9 706.2 L889.9 707.6 L890.9 708.2 L890.9 709.6 L889.9 711.0 L890.9 711.6 L890.9 713.0 L889.9 714.4 L890.9 715.0 L890.9 716.4 L889.9 717.8 L890.9 718.4 L891.3 718 L891.3 738 L894.5 738 L894.5 718 L894.9 718.4 L895.9 717.8 L894.9 716.4 L894.9 715.0 L895.9 714.4 L894.9 713.0 L894.9 711.6 L895.9 711.0 L894.9 709.6 L894.9 708.2 L895.9 707.6 L894.9 706.2 L894.9 704.8 L895.9 704.2 L894.9 702.8 L894.9 701.4 L895.9 700.8 L894.9 699.4 L894.9 698.0 L895.9 697.4 L894.9 696.0 L894.9 694.6 L895.9 694.0 L894.9 692.6 L894.9 691.2 L895.9 690.6 L894.9 689.2 L894.9 687.8 L895.9 687.2 L894.9 685.8 L894.9 684.4 L895.9 683.8 L894.9 682.4 L894.9 681.0 L895.9 680.4 L894.9 679.0 L894.9 679 Z" stroke-width="0.9"/>
<path d="M890.5 680.5H895.3 M890.5 683.9H895.3 M890.5 687.3H895.3 M890.5 690.7H895.3 M890.5 694.1H895.3 M890.5 697.5H895.3 M890.5 700.9H895.3 M890.5 704.3H895.3 M890.5 707.7H895.3 M890.5 711.1H895.3 M890.5 714.5H895.3" stroke-width="0.8" style="stroke:#333"/>
<path class="w" style="stroke:#222" d="M891.3 737 L886.9 740.5 Q892.9 746 898.9 740.5 L894.5 737Z" stroke-width="0.9"/>
<ellipse class="w" cx="892.9" cy="741" rx="6" ry="2.6" stroke-width="1" style="stroke:#222"/>
<path d="M890.4 741H895.4 M892.9 739.8V742.2" stroke-width="0.7"/>
</g>
<g transform="translate(595.7 622.5) rotate(0) scale(0.09728) translate(-520 -128)" class="k" stroke-width="10.28" style="stroke:#2a2a2a">
<path fill="#fff" stroke="none" d="M176 560 V872 A344 110 0 0 0 864 872 V560 Q864 425 520 425 Q176 425 176 560 Z"/>
<path d="M176 545 V872 M864 545 V872"/>
<path d="M186 540V860 M854 545V858" stroke-width="6.17"/>
<ellipse cx="520" cy="873" rx="344" ry="110" stroke-width="9.25"/>
<ellipse cx="520" cy="868" rx="280" ry="80" stroke-width="8.22"/>
<path d="M475 800V965 M570 800V965 M400 792Q440 790 475 802 M570 802Q600 790 640 792" stroke-width="7.20"/>
<path class="w" style="stroke:#2a2a2a" d="M142 565 C136 480 150 400 175 330 C195 270 215 225 240 200 C320 160 430 130 520 128 C610 130 720 160 800 200 C830 230 855 290 875 345 C895 410 910 480 905 545 C900 575 890 582 880 582 C860 520 760 425 520 425 C300 425 180 510 160 578 C150 580 142 575 142 565Z"/>
<path d="M350 158 C420 138 470 128 520 128 C580 130 640 140 700 160" stroke-width="16.45" style="stroke:#111"/>
<path d="M152 400 C300 335 430 315 520 315 C620 315 780 345 893 420" stroke-width="9.25"/>
<path d="M172 562 C200 500 330 438 520 438 C720 438 840 500 868 566" stroke-width="8.22"/>
</g>
<g transform="translate(821.4 622.5) rotate(0) scale(0.09728) translate(-520 -128)" class="k" stroke-width="10.28" style="stroke:#2a2a2a">
<path fill="#fff" stroke="none" d="M176 560 V872 A344 110 0 0 0 864 872 V560 Q864 425 520 425 Q176 425 176 560 Z"/>
<path d="M176 545 V872 M864 545 V872"/>
<path d="M186 540V860 M854 545V858" stroke-width="6.17"/>
<ellipse cx="520" cy="873" rx="344" ry="110" stroke-width="9.25"/>
<ellipse cx="520" cy="868" rx="280" ry="80" stroke-width="8.22"/>
<path d="M475 800V965 M570 800V965 M400 792Q440 790 475 802 M570 802Q600 790 640 792" stroke-width="7.20"/>
<path class="w" style="stroke:#2a2a2a" d="M142 565 C136 480 150 400 175 330 C195 270 215 225 240 200 C320 160 430 130 520 128 C610 130 720 160 800 200 C830 230 855 290 875 345 C895 410 910 480 905 545 C900 575 890 582 880 582 C860 520 760 425 520 425 C300 425 180 510 160 578 C150 580 142 575 142 565Z"/>
<path d="M350 158 C420 138 470 128 520 128 C580 130 640 140 700 160" stroke-width="16.45" style="stroke:#111"/>
<path d="M152 400 C300 335 430 315 520 315 C620 315 780 345 893 420" stroke-width="9.25"/>
<path d="M172 562 C200 500 330 438 520 438 C720 438 840 500 868 566" stroke-width="8.22"/>
</g>

<!-- step 4 -->
<clipPath id="p4"><rect x="972" y="458" width="529.6" height="388.6"/></clipPath>
<g clip-path="url(#p4)">
<path class="k" d="M971.7 470.0 L984.0 457.5" stroke-width="1.8" style="stroke:#111" />
<path class="k" d="M971.7 488.0 L999.8 457.6" stroke-width="0.85" style="stroke:#3a3a3a" />
<path class="k" d="M990.0 469.0 L1089.0 477.8" stroke-width="0.85" style="stroke:#3a3a3a" />
<path class="k" d="M1099.0 478.6 L1119.0 480.5" stroke-width="0.85" style="stroke:#3a3a3a" />
<path class="k" d="M971.7 496.2 L1063.5 504.8" stroke-width="0.85" style="stroke:#3a3a3a" />
<path class="k" d="M971.7 525.5 L1061.0 533.5" stroke-width="0.85" style="stroke:#3a3a3a" />
<path class="k" d="M1078.0 476.8 L1054.0 503.5" stroke-width="0.85" style="stroke:#3a3a3a" />
<path class="k" d="M1182.5 466.8 L1195.5 457.6" stroke-width="0.85" style="stroke:#3a3a3a" />
<path class="k" d="M1193.0 458.0 L1502.0 484.4" stroke-width="0.85" style="stroke:#3a3a3a" />
<path class="k" d="M1358.0 483.9 L1369.5 472.3" stroke-width="0.85" style="stroke:#3a3a3a" />
<path class="k" d="M1399.4 457.8 L1502.0 466.1" stroke-width="1.7" style="stroke:#111" stroke-dasharray="5 1.2"/>
<path class="k" d="M1432.8 506.9 L1502.0 513.2" stroke-width="0.85" style="stroke:#3a3a3a" />
<path class="k" d="M1424.7 535.6 L1494.5 541.8" stroke-width="0.85" style="stroke:#3a3a3a" />
<path class="k" d="M1502.0 535.1 L1470.7 568.4" stroke-width="0.85" style="stroke:#3a3a3a" />
<path class="k" d="M1400.6 562.1 L1470.7 568.4" stroke-width="0.85" style="stroke:#3a3a3a" />
<path class="w" d="M1119.0 464.5 L1418.6 489.7 L1418.6 519.5 L1119.0 491.5Z" stroke-width="0.9" style="stroke:#222" />
<path class="k" d="M1119.0 464.5 L1119.0 491.5" stroke-width="1.2" style="stroke:#111" />
<path class="k" d="M1418.6 489.7 L1418.6 518.0" stroke-width="1.2" style="stroke:#111" />
<path class="k" d="M1119.0 464.5 L1418.6 489.7" stroke-width="1.1" style="stroke:#111" stroke-dasharray="4 1"/>
<path class="w" d="M1059.5 538.8 L1099.5 492.6 L1101.5 490.2 L1119.0 491.5 L1418.6 519.5 L1436.4 519.5 L1436.8 521.0 L1393.1 567.8Z" stroke-width="0.9" style="stroke:#222" />
<path class="k" d="M1100.0 491.8 L1102.0 490.0 L1119.0 491.5" stroke-width="1.5" style="stroke:#111" />
<path class="k" d="M1418.6 518.3 L1436.0 519.0" stroke-width="1.7" style="stroke:#111" />
<rect class="w" x="1108.5" y="488" width="4" height="3" stroke-width="0.7" style="stroke:#222"/>
<path class="w" d="M1063.5 504.8 L1098.2 468.0 L1098.2 494.0 L1060.5 536.5 L1059.2 538.6 L1064.0 530.0Z" stroke-width="0.9" style="stroke:#222" />
<path class="k" d="M1063.5 504.8 L1064.0 530.0 L1059.3 538.5" stroke-width="1.2" style="stroke:#111" />
<path class="k" d="M1096.7 470.0 L1096.7 495.0" stroke-width="0.7" style="stroke:#333" />
<path class="k" d="M1098.3 468.0 L1098.3 494.0" stroke-width="1.1" style="stroke:#111" />
<ellipse cx="1080" cy="496" rx="0.9" ry="3" class="b" stroke-width="0.5"/>
<path class="w" d="M1419.0 506.5 L1429.3 496.6 L1431.0 496.6 L1431.0 518.6 L1419.0 518.0Z" stroke-width="0.9" style="stroke:#222" />
<path class="k" d="M1429.3 497.0 L1429.3 518.0" stroke-width="0.7" style="stroke:#333" />
<ellipse cx="1111" cy="519" rx="5.2" ry="2.7" class="k" stroke-width="1.2" style="stroke:#222"/>
<path d="M1106.8 518.2 Q1111 523.4 1115.2 518.2 Q1111 519.6 1106.8 518.2Z" class="b" stroke-width="0.7"/>
<ellipse cx="1384.2" cy="542.5" rx="5.2" ry="2.7" class="k" stroke-width="1.2" style="stroke:#222"/>
<path d="M1380.0 541.7 Q1384.2 546.9 1388.4 541.7 Q1384.2 543.1 1380.0 541.7Z" class="b" stroke-width="0.7"/>
<path class="k" d="M1080.0 498.0 L1080.0 586.0" stroke-width="0.8" style="stroke:#3a3a3a" />
<path class="k" d="M1414.8 544.0 L1414.8 596.0" stroke-width="0.8" style="stroke:#3a3a3a" />
<g transform="translate(1163.5 519.1) rotate(0) scale(0.07500) translate(-520 -128)" class="k" stroke-width="13.33" style="stroke:#2a2a2a">
<path fill="#fff" stroke="none" d="M176 560 V872 A344 110 0 0 0 864 872 V560 Q864 425 520 425 Q176 425 176 560 Z"/>
<path fill="#777" stroke="none" d="M176 560 H212 V900 H176Z"/>
<path d="M176 545 V872 M864 545 V872"/>
<path d="M186 540V860 M854 545V858" stroke-width="8.00"/>
<ellipse cx="520" cy="873" rx="344" ry="110" stroke-width="12.00"/>
<ellipse cx="520" cy="868" rx="280" ry="80" stroke-width="10.67"/>
<path d="M475 800V965 M570 800V965 M400 792Q440 790 475 802 M570 802Q600 790 640 792" stroke-width="9.33"/>
<path class="w" style="stroke:#2a2a2a" d="M142 565 C136 480 150 400 175 330 C195 270 215 225 240 200 C320 160 430 130 520 128 C610 130 720 160 800 200 C830 230 855 290 875 345 C895 410 910 480 905 545 C900 575 890 582 880 582 C860 520 760 425 520 425 C300 425 180 510 160 578 C150 580 142 575 142 565Z"/>
<path d="M350 158 C420 138 470 128 520 128 C580 130 640 140 700 160" stroke-width="21.33" style="stroke:#111"/>
<path d="M152 400 C300 335 430 315 520 315 C620 315 780 345 893 420" stroke-width="12.00"/>
<path d="M172 562 C200 500 330 438 520 438 C720 438 840 500 868 566" stroke-width="10.67"/>
</g>
<g transform="translate(1330.8 533.8) rotate(0) scale(0.07607) translate(-520 -128)" class="k" stroke-width="13.15" style="stroke:#2a2a2a">
<path fill="#fff" stroke="none" d="M176 560 V872 A344 110 0 0 0 864 872 V560 Q864 425 520 425 Q176 425 176 560 Z"/>
<path fill="#777" stroke="none" d="M176 560 H212 V900 H176Z"/>
<path d="M176 545 V872 M864 545 V872"/>
<path d="M186 540V860 M854 545V858" stroke-width="7.89"/>
<ellipse cx="520" cy="873" rx="344" ry="110" stroke-width="11.83"/>
<ellipse cx="520" cy="868" rx="280" ry="80" stroke-width="10.52"/>
<path d="M475 800V965 M570 800V965 M400 792Q440 790 475 802 M570 802Q600 790 640 792" stroke-width="9.20"/>
<path class="w" style="stroke:#2a2a2a" d="M142 565 C136 480 150 400 175 330 C195 270 215 225 240 200 C320 160 430 130 520 128 C610 130 720 160 800 200 C830 230 855 290 875 345 C895 410 910 480 905 545 C900 575 890 582 880 582 C860 520 760 425 520 425 C300 425 180 510 160 578 C150 580 142 575 142 565Z"/>
<path d="M350 158 C420 138 470 128 520 128 C580 130 640 140 700 160" stroke-width="21.03" style="stroke:#111"/>
<path d="M152 400 C300 335 430 315 520 315 C620 315 780 345 893 420" stroke-width="11.83"/>
<path d="M172 562 C200 500 330 438 520 438 C720 438 840 500 868 566" stroke-width="10.52"/>
</g>
<path class="w" d="M1095.0 569.9 L1449.6 600.0 L1449.9 775.2 L1400.3 829.1 L1045.8 798.6 L1045.5 622.4Z" stroke-width="1" style="stroke:#222" />
<path class="k" d="M1045.8 798.6 L1045.5 622.4 L1095.0 569.9" stroke-width="1.25" style="stroke:#111" />
<path class="k" d="M1095.0 569.9 L1449.6 600.0" stroke-width="1.35" style="stroke:#111" stroke-dasharray="4 1"/>
<path class="k" d="M1449.6 600.0 L1449.9 775.2" stroke-width="1.35" style="stroke:#111" />
<path class="k" d="M1449.9 775.2 L1400.3 829.1" stroke-width="1.3" style="stroke:#222" />
<path class="k" d="M1095.2 570.0 L1095.4 745.1" stroke-width="0.8" style="stroke:#444" />
<path class="k" d="M1045.8 798.6 L1095.4 745.1 L1449.9 775.2" stroke-width="0.9" style="stroke:#333" />
<path class="k" d="M1059.4 795.7 L1101.2 749.9 L1436.3 778.5 L1393.5 823.9Z" stroke-width="0.9" style="stroke:#333" />
<path class="k" d="M1059.4 795.7 L1101.2 749.9" stroke-width="1.3" style="stroke:#222" />
<path class="k" d="M1393.5 774.5 L1393.5 823.9" stroke-width="0.8" style="stroke:#444" />
<ellipse cx="1070.3" cy="606.5" rx="2.3" ry="6.6" class="k" stroke-width="0.8" style="stroke:#333"/>
<path class="k" d="M1046.5 604.7 L1070.0 606.5" stroke-width="0.7" style="stroke:#555" />
<path class="k" d="M1450.5 640.1 L1463.0 641.2" stroke-width="0.7" style="stroke:#555" />
<g transform="translate(1023.6 602.8) rotate(5) scale(1 1)" class="k" style="stroke:#161616" stroke-width="1.1">
<path class="w" style="stroke:#161616" d="M0 -6.8 Q6 -4.6 7.2 -3.6 L7.2 3.6 Q6 4.6 0 6.8Z" stroke-width="1.3"/>
<ellipse class="w" style="stroke:#161616" cx="0" cy="0" rx="2.7" ry="6.8" stroke-width="1.5"/>
<path d="M-1 -3L1 3 M-1.3 1.8L1.3 -1.8" stroke-width="0.9"/>
<rect class="w" style="stroke:#161616" x="7.2" y="-3.7" width="17" height="7.4" rx="1.5" stroke-width="1.4"/>
<path d="M9.5 -3.2V3.2 M11.9 -3.2V3.2 M14.3 -3.2V3.2 M16.7 -3.2V3.2 M19.1 -3.2V3.2 M21.5 -3.2V3.2" stroke-width="1.25" style="stroke:#2a2a2a"/>
</g>
<g transform="translate(1487.2 642.6) rotate(5) scale(-1 1)" class="k" style="stroke:#161616" stroke-width="1.1">
<path class="w" style="stroke:#161616" d="M0 -6.8 Q6 -4.6 7.2 -3.6 L7.2 3.6 Q6 4.6 0 6.8Z" stroke-width="1.3"/>
<ellipse class="w" style="stroke:#161616" cx="0" cy="0" rx="2.7" ry="6.8" stroke-width="1.5"/>
<path d="M-1 -3L1 3 M-1.3 1.8L1.3 -1.8" stroke-width="0.9"/>
<rect class="w" style="stroke:#161616" x="7.2" y="-3.7" width="17" height="7.4" rx="1.5" stroke-width="1.4"/>
<path d="M9.5 -3.2V3.2 M11.9 -3.2V3.2 M14.3 -3.2V3.2 M16.7 -3.2V3.2 M19.1 -3.2V3.2 M21.5 -3.2V3.2" stroke-width="1.25" style="stroke:#2a2a2a"/>
</g>
</g>

</svg>
</body></html>
